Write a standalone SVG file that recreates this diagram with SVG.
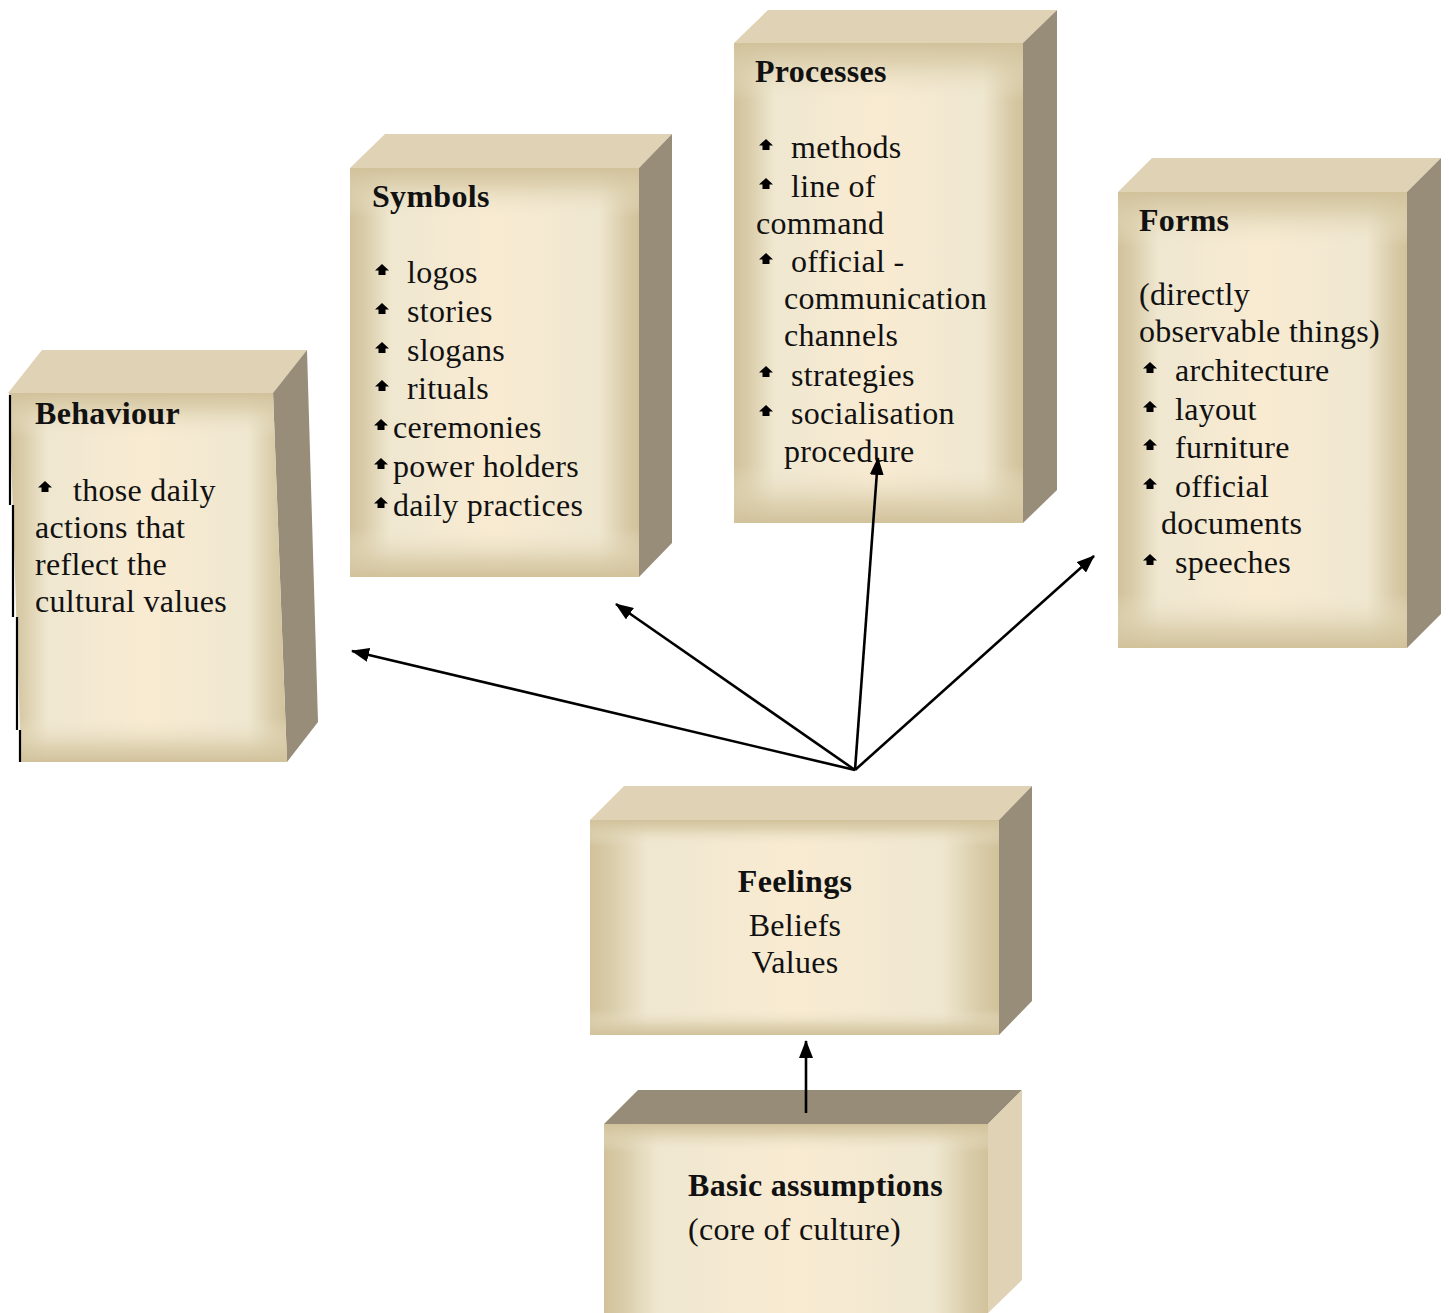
<svg xmlns="http://www.w3.org/2000/svg" xmlns:xlink="http://www.w3.org/1999/xlink" width="1449" height="1313" viewBox="0 0 1449 1313">
  <defs>
    <!-- front face: warm centre fading to darker tan edges -->
    <linearGradient id="faceH" x1="0" y1="0" x2="1" y2="0">
      <stop offset="0" stop-color="#d1c29b"/>
      <stop offset="0.05" stop-color="#d9cca9"/>
      <stop offset="0.14" stop-color="#efe7d0"/>
      <stop offset="0.5" stop-color="#f9ebd2"/>
      <stop offset="0.86" stop-color="#efe7d0"/>
      <stop offset="0.95" stop-color="#d9cca9"/>
      <stop offset="1" stop-color="#d1c29b"/>
    </linearGradient>
    <linearGradient id="faceV" x1="0" y1="0" x2="0" y2="1">
      <stop offset="0" stop-color="#d1c29b" stop-opacity="1"/>
      <stop offset="0.04" stop-color="#d9cca9" stop-opacity="0.8"/>
      <stop offset="0.12" stop-color="#efe7d0" stop-opacity="0"/>
      <stop offset="0.88" stop-color="#efe7d0" stop-opacity="0"/>
      <stop offset="0.96" stop-color="#d9cca9" stop-opacity="0.8"/>
      <stop offset="1" stop-color="#d1c29b" stop-opacity="1"/>
    </linearGradient>
    <!-- small arrow-shaped list bullet -->
    <path id="blt" d="M0,6.5 L7,0 L14,6.5 L10.5,6.5 L10.5,11 L3.5,11 L3.5,6.5 Z" fill="#000"/>
    <marker id="ah" markerUnits="userSpaceOnUse" markerWidth="18" markerHeight="14" refX="17" refY="7" orient="auto">
      <path d="M0,0 L18,7 L0,14 Z" fill="#000"/>
    </marker>
    <style>
      .top { fill: #e0d2b4; }
      .side { fill: #988d78; }
      .topDark { fill: #978c77; }
      .sideLight { fill: #e0d2b4; }
      .fh { fill: url(#faceH); }
      .fv { fill: url(#faceV); }
      text { font-family: "Liberation Serif", "DejaVu Serif", serif; font-size: 32px; fill: #111; letter-spacing: 0.3px; }
      .b { font-weight: bold; }
      .c { text-anchor: middle; }
      .conn { stroke: #000; stroke-width: 2.6; fill: none; marker-end: url(#ah); }
    </style>
  </defs>

  <!-- Behaviour -->
  <g id="behaviour">
    <polygon class="top" points="8,393 42,350 307,350 273,393"/>
    <polygon class="side" points="273,393 307,350 318,722 287,762"/>
    <polygon class="fh" points="9,393 273,393 287,762 21,762"/>
    <polygon class="fv" points="9,393 273,393 287,762 21,762"/>
    <path d="M10,395 V505 M13,505 V617 M17,617 V730 M20,730 V762" stroke="#000" stroke-width="2.2" fill="none"/>
    <text class="b" x="35" y="424">Behaviour</text>
    <use xlink:href="#blt" x="38" y="481"/>
    <text x="73" y="501">those daily</text>
    <text x="35" y="538">actions that</text>
    <text x="35" y="575">reflect the</text>
    <text x="35" y="612">cultural values</text>
  </g>

  <!-- Symbols -->
  <g id="symbols">
    <polygon class="top" points="350,168 385,134 672,134 639,168"/>
    <polygon class="side" points="639,168 672,134 672,543 639,577"/>
    <rect class="fh" x="350" y="168" width="289" height="409"/>
    <rect class="fv" x="350" y="168" width="289" height="409"/>
    <text class="b" x="372" y="207">Symbols</text>
    <use xlink:href="#blt" x="375" y="264"/>
    <text x="407" y="283">logos</text>
    <use xlink:href="#blt" x="375" y="303"/>
    <text x="407" y="322">stories</text>
    <use xlink:href="#blt" x="375" y="342"/>
    <text x="407" y="361">slogans</text>
    <use xlink:href="#blt" x="375" y="380"/>
    <text x="407" y="399">rituals</text>
    <use xlink:href="#blt" x="374" y="419"/>
    <text x="393" y="438">ceremonies</text>
    <use xlink:href="#blt" x="374" y="458"/>
    <text x="393" y="477">power holders</text>
    <use xlink:href="#blt" x="374" y="497"/>
    <text x="393" y="516">daily practices</text>
  </g>

  <!-- Processes -->
  <g id="processes">
    <polygon class="top" points="734,43 768,10 1057,10 1023,43"/>
    <polygon class="side" points="1023,43 1057,10 1057,490 1023,523"/>
    <rect class="fh" x="734" y="43" width="289" height="480"/>
    <rect class="fv" x="734" y="43" width="289" height="480"/>
    <text class="b" x="755" y="82">Processes</text>
    <use xlink:href="#blt" x="759" y="139"/>
    <text x="791" y="158">methods</text>
    <use xlink:href="#blt" x="759" y="178"/>
    <text x="791" y="197">line of</text>
    <text x="756" y="234">command</text>
    <use xlink:href="#blt" x="759" y="253"/>
    <text x="791" y="272">official -</text>
    <text x="784" y="309">communication</text>
    <text x="784" y="346">channels</text>
    <use xlink:href="#blt" x="759" y="366"/>
    <text x="791" y="386">strategies</text>
    <use xlink:href="#blt" x="759" y="405"/>
    <text x="791" y="424">socialisation</text>
    <text x="784" y="462">procedure</text>
  </g>

  <!-- Forms -->
  <g id="forms">
    <polygon class="top" points="1118,192 1152,158 1441,158 1407,192"/>
    <polygon class="side" points="1407,192 1441,158 1441,614 1407,648"/>
    <rect class="fh" x="1118" y="192" width="289" height="456"/>
    <rect class="fv" x="1118" y="192" width="289" height="456"/>
    <text class="b" x="1139" y="231">Forms</text>
    <text x="1139" y="305">(directly</text>
    <text x="1139" y="342">observable things)</text>
    <use xlink:href="#blt" x="1143" y="362"/>
    <text x="1175" y="381">architecture</text>
    <use xlink:href="#blt" x="1143" y="401"/>
    <text x="1175" y="420">layout</text>
    <use xlink:href="#blt" x="1143" y="439"/>
    <text x="1175" y="458">furniture</text>
    <use xlink:href="#blt" x="1143" y="478"/>
    <text x="1175" y="497">official</text>
    <text x="1161" y="534">documents</text>
    <use xlink:href="#blt" x="1143" y="554"/>
    <text x="1175" y="573">speeches</text>
  </g>

  <!-- Feelings / Beliefs / Values -->
  <g id="feelings">
    <polygon class="top" points="590,820 624,786 1032,786 999,820"/>
    <polygon class="side" points="999,820 1032,786 1032,1001 999,1035"/>
    <rect class="fh" x="590" y="820" width="409" height="215"/>
    <rect class="fv" x="590" y="820" width="409" height="215"/>
    <text class="b c" x="795" y="892">Feelings</text>
    <text class="c" x="795" y="936">Beliefs</text>
    <text class="c" x="795" y="973">Values</text>
  </g>

  <!-- Basic assumptions -->
  <g id="basic-assumptions">
    <polygon class="topDark" points="604,1124 638,1090 1022,1090 988,1124"/>
    <polygon class="sideLight" points="988,1124 1022,1090 1022,1280 988,1313"/>
    <rect class="fh" x="604" y="1124" width="384" height="189"/>
    <rect class="fv" x="604" y="1124" width="384" height="230"/>
    <text class="b" x="688" y="1196">Basic assumptions</text>
    <text x="688" y="1240">(core of culture)</text>
  </g>

  <!-- connectors -->
  <g id="connectors">
    <line class="conn" x1="855" y1="770" x2="352" y2="651"/>
    <line class="conn" x1="855" y1="770" x2="616" y2="604"/>
    <line class="conn" x1="855" y1="770" x2="878" y2="458"/>
    <line class="conn" x1="855" y1="770" x2="1094" y2="556"/>
    <line class="conn" x1="806" y1="1113" x2="806" y2="1041"/>
  </g>
</svg>
